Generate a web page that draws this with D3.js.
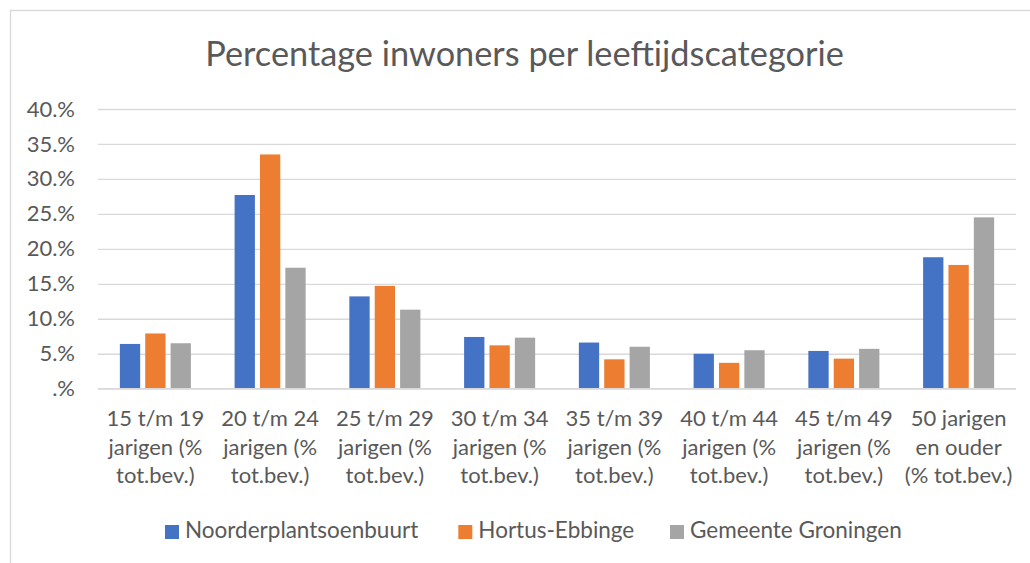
<!DOCTYPE html>
<html>
<head>
<meta charset="utf-8">
<script src="https://cdn.jsdelivr.net/npm/d3@7"></script>
<style>
  html, body { margin: 0; padding: 0; background: #fff; }
  svg { display: block; }
  text { font-family: Lato, "Open Sans", "Noto Sans", sans-serif; fill: #595959; }
</style>
</head>
<body>
<svg id="chart" width="1030" height="563"></svg>
<script>
const title = "Percentage inwoners per leeftijdscategorie";
const categoryLines = [
  ["15 t/m 19", "jarigen (%", "tot.bev.)"],
  ["20 t/m 24", "jarigen (%", "tot.bev.)"],
  ["25 t/m 29", "jarigen (%", "tot.bev.)"],
  ["30 t/m 34", "jarigen (%", "tot.bev.)"],
  ["35 t/m 39", "jarigen (%", "tot.bev.)"],
  ["40 t/m 44", "jarigen (%", "tot.bev.)"],
  ["45 t/m 49", "jarigen (%", "tot.bev.)"],
  ["50 jarigen", "en ouder", "(% tot.bev.)"]
];
const categories = categoryLines.map(l => l.join(" "));
const seriesNames = ["Noorderplantsoenbuurt", "Hortus-Ebbinge", "Gemeente Groningen"];
const noorderplantsoenbuurt = [6.4, 27.7, 13.2, 7.4, 6.6, 5.0, 5.4, 18.8];
const hortusEbbinge        = [7.9, 33.5, 14.7, 6.2, 4.2, 3.7, 4.3, 17.7];
const gemeenteGroningen    = [6.5, 17.3, 11.3, 7.3, 6.0, 5.5, 5.7, 24.5];
const seriesValues = [noorderplantsoenbuurt, hortusEbbinge, gemeenteGroningen];
const colors = ["#4472C4", "#ED7D31", "#A5A5A5"];
const yTicks = [0, 5, 10, 15, 20, 25, 30, 35, 40];
const yTickLabels = [".%", "5.%", "10.%", "15.%", "20.%", "25.%", "30.%", "35.%", "40.%"];

const svg = d3.select("#chart");
const W = 1030, H = 563;
svg.append("rect").attr("width", W).attr("height", H).attr("fill", "#fff");

// chart border (only top and left visible)
svg.append("path")
  .attr("d", `M10.5,${H + 5} V10.5 H${W + 5}`)
  .attr("fill", "none").attr("stroke", "#d9d9d9").attr("stroke-width", 1.3);

const plot = { left: 98, right: 1016, top: 109, bottom: 388.7 };

const y = d3.scaleLinear().domain([0, 40]).range([plot.bottom, plot.top]);
const x0 = d3.scaleBand().domain(categories).range([plot.left, plot.right])
  .paddingInner(0.381).paddingOuter(0.1905);
const x1 = d3.scaleBand().domain(seriesNames).range([0, x0.bandwidth()])
  .paddingInner(0.2).paddingOuter(0);

// gridlines via axis
const grid = svg.append("g").attr("transform", `translate(${plot.left},0)`)
  .call(d3.axisLeft(y).tickValues(yTicks).tickSize(-(plot.right - plot.left)).tickFormat(""));
grid.select(".domain").remove();
grid.selectAll(".tick line").attr("stroke", "#d9d9d9").attr("stroke-width", 1.3);

// y labels via axis
const yAxis = svg.append("g").attr("transform", `translate(75,0)`)
  .call(d3.axisLeft(y).tickValues(yTicks).tickSize(0).tickPadding(0)
    .tickFormat((d, i) => yTickLabels[i]));
yAxis.select(".domain").remove();
yAxis.selectAll(".tick text")
  .attr("font-size", 22).attr("fill", "#595959")
  .style("font-family", "Lato, 'Open Sans', sans-serif");

// bars
const groups = svg.append("g").selectAll("g").data(categories).join("g")
  .attr("transform", d => `translate(${x0(d)},0)`);
groups.selectAll("rect")
  .data((d, ci) => seriesNames.map((s, si) => ({ s, v: seriesValues[si][ci], si })))
  .join("rect")
  .attr("x", d => x1(d.s))
  .attr("width", x1.bandwidth())
  .attr("y", d => y(d.v))
  .attr("height", d => y(0) - y(d.v))
  .attr("fill", d => colors[d.si]);

// x axis (baseline) + labels
const xAxis = svg.append("g").attr("transform", `translate(0,${plot.bottom})`)
  .call(d3.axisBottom(x0).tickSize(0).tickFormat(""));
xAxis.select(".domain").attr("stroke", "#d9d9d9").attr("stroke-width", 1.3)
  .attr("d", `M${plot.left},0H${plot.right}`);
xAxis.selectAll(".tick").each(function (d, i) {
  const t = d3.select(this).select("text")
    .attr("y", 0).attr("dy", null)
    .attr("font-size", 22).attr("fill", "#595959")
    .attr("text-anchor", "middle");
  categoryLines[i].forEach((line, li) => {
    t.append("tspan").attr("x", 0).attr("y", 37.5 + li * 28.5).text(line);
  });
});

// title
svg.append("text")
  .attr("x", 524.5).attr("y", 66)
  .attr("text-anchor", "middle")
  .attr("font-size", 34.3)
  .text(title);

// legend
const legendX = [165, 458.3, 670];
const leg = svg.append("g").selectAll("g").data(seriesNames).join("g")
  .attr("transform", (d, i) => `translate(${legendX[i]},525)`);
leg.append("rect").attr("width", 14).attr("height", 14).attr("fill", (d, i) => colors[i]);
leg.append("text").attr("x", 20).attr("y", 13.3).attr("font-size", 22.5).text(d => d);
</script>
</body>
</html>
